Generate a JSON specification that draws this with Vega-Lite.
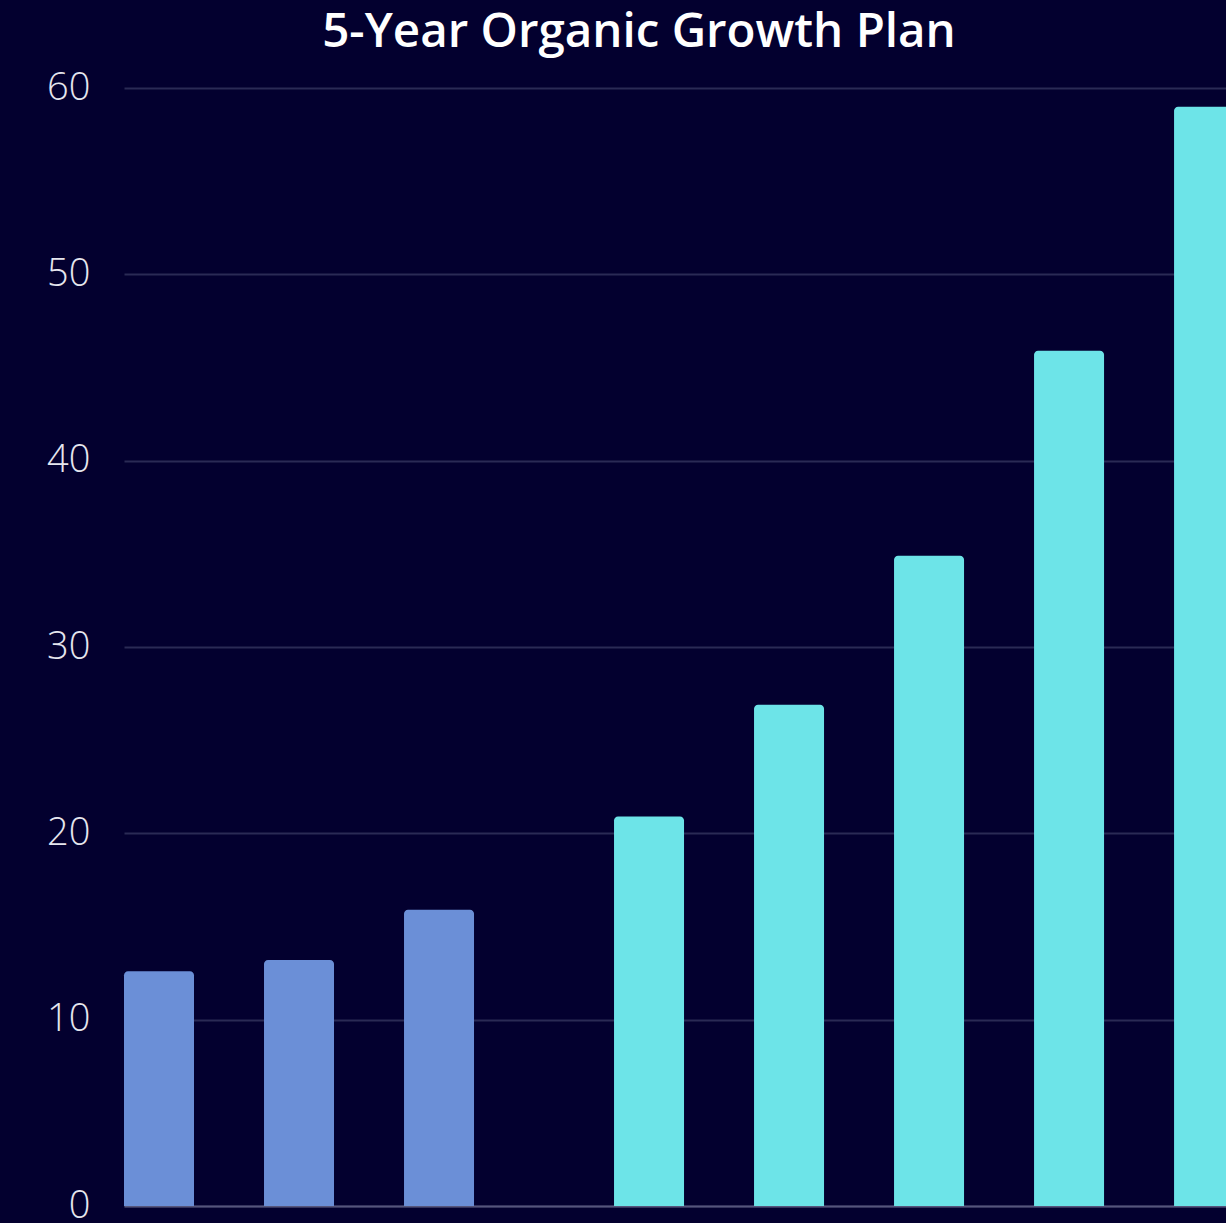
{
  "$schema": "https://vega.github.io/schema/vega-lite/v6.json",
  "autosize": "none",
  "width": 1102,
  "height": 1118,
  "padding": {"left": 124, "top": 88, "right": 0, "bottom": 17},
  "background": "#03002f",
  "title": {
    "text": "5-Year Organic Growth Plan",
    "color": "#ffffff",
    "font": "Open Sans",
    "fontWeight": 600,
    "fontSize": 47.5,
    "anchor": "middle",
    "frame": "group",
    "dx": -36,
    "offset": 13
  },
  "config": {
    "view": {"stroke": null},
    "axis": {"labelFont": "Open Sans"}
  },
  "data": {
    "values": [
      {"period": "Year -3", "slot": 1, "value": 12.6, "phase": "Actual"},
      {"period": "Year -2", "slot": 2, "value": 13.2, "phase": "Actual"},
      {"period": "Year -1", "slot": 3, "value": 15.9, "phase": "Actual"},
      {"period": "Year 1", "slot": 4.5, "value": 20.9, "phase": "Plan"},
      {"period": "Year 2", "slot": 5.5, "value": 26.9, "phase": "Plan"},
      {"period": "Year 3", "slot": 6.5, "value": 34.9, "phase": "Plan"},
      {"period": "Year 4", "slot": 7.5, "value": 45.9, "phase": "Plan"},
      {"period": "Year 5", "slot": 8.5, "value": 59.0, "phase": "Plan"}
    ]
  },
  "mark": {
    "type": "bar",
    "orient": "vertical",
    "size": 70,
    "cornerRadiusTopLeft": 4,
    "cornerRadiusTopRight": 4
  },
  "encoding": {
    "x": {
      "field": "slot",
      "type": "quantitative",
      "scale": {"domain": [0.75, 8.621], "nice": false, "zero": false, "padding": 0},
      "axis": {
        "title": null,
        "labels": false,
        "ticks": false,
        "grid": false,
        "domain": true,
        "domainColor": "#55557c",
        "domainWidth": 2
      }
    },
    "y": {
      "field": "value",
      "type": "quantitative",
      "stack": null,
      "scale": {"domain": [0, 60], "nice": false},
      "axis": {
        "title": null,
        "values": [0, 10, 20, 30, 40, 50, 60],
        "domain": false,
        "ticks": false,
        "labelPadding": 34,
        "labelFontSize": 38,
        "labelFontWeight": 300,
        "labelColor": "#e6e6ee",
        "gridColor": "#2a2a55",
        "gridWidth": 2
      }
    },
    "color": {
      "field": "phase",
      "type": "nominal",
      "scale": {"domain": ["Actual", "Plan"], "range": ["#6b8fd7", "#6de4e8"]},
      "legend": null
    }
  }
}
